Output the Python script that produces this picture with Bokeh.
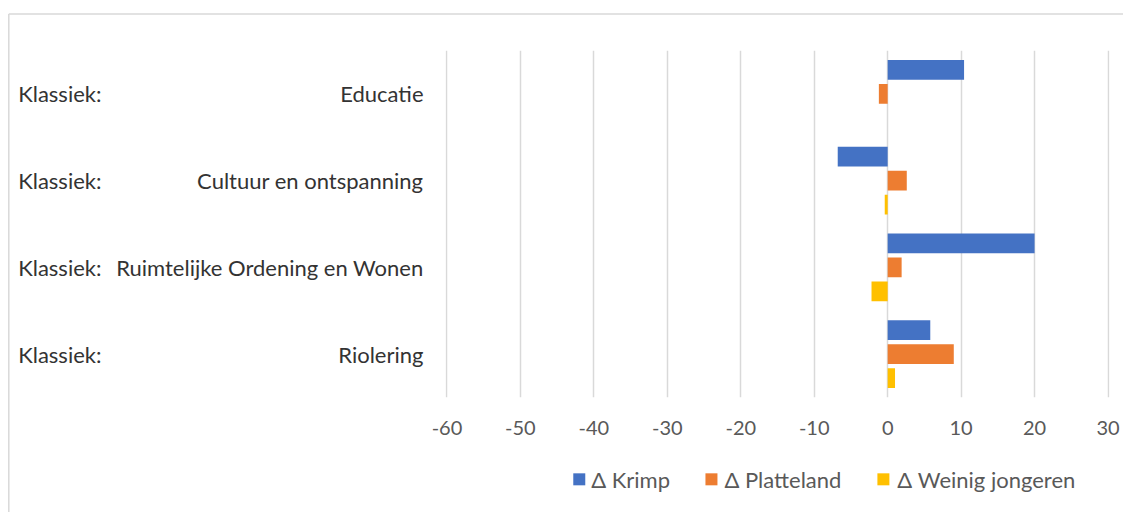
from bokeh.plotting import figure
from bokeh.models import FactorRange, Range1d, FixedTicker, ColumnDataSource
from bokeh.transform import dodge
from bokeh.core.properties import value
from bokeh.embed import file_html
from bokeh.resources import INLINE

# ---- data ----
categories = ["Educatie", "Cultuur en ontspanning", "Ruimtelijke Ordening en Wonen", "Riolering"]
prefixes = ["Klassiek:", "Klassiek:", "Klassiek:", "Klassiek:"]
series_names = ["\u0394 Krimp", "\u0394 Platteland", "\u0394 Weinig jongeren"]
krimp = [10.4, -6.8, 20.0, 5.8]
platteland = [-1.2, 2.6, 1.9, 9.0]
weinig_jongeren = [0.0, -0.4, -2.2, 1.0]
x_ticks = [-60, -50, -40, -30, -20, -10, 0, 10, 20, 30]
x_tick_labels = ["-60", "-50", "-40", "-30", "-20", "-10", "0", "10", "20", "30"]

# ---- styling / layout ----
colors = ["#4472C4", "#ED7D31", "#FFC000"]
FONT = "Lato"
W, H = 1123, 512
SX, SY = W / 1131.0, H / 520.0          # reference px -> figure px
X0, X1 = -60.2, 30.2
frame_left = 448.4 * SX
frame_right = 1116.5 * SX
frame_top = 51 * SY
frame_bottom = 403 * SY
cat_px = (frame_bottom - frame_top) / len(categories)
px_per_unit = (frame_right - frame_left) / (X1 - X0)


def data_x(px):
    return X0 + (px * SX - frame_left) / px_per_unit


def data_y(py):
    return (frame_bottom - py * SY) / cat_px


src = ColumnDataSource(dict(cat=categories, prefix=prefixes,
                            krimp=krimp, platteland=platteland, weinig=weinig_jongeren))

p = figure(width=W, height=H,
           x_range=Range1d(X0, X1),
           y_range=FactorRange(*categories[::-1]),
           output_backend="svg", toolbar_location=None,
           min_border_left=int(round(frame_left)), min_border_right=W - int(round(frame_right)),
           min_border_top=int(round(frame_top)), min_border_bottom=H - int(round(frame_bottom)))

p.background_fill_color = "white"
p.border_fill_color = "white"
p.outline_line_color = None

offsets = [0.276, 0.0, -0.276]
cols = ["krimp", "platteland", "weinig"]
for col, off, c in zip(cols, offsets, colors):
    p.hbar(y=dodge("cat", off, range=p.y_range), left=0, right=col, height=0.227,
           fill_color=c, line_color=None, source=src)

# x axis / grid
p.xaxis.ticker = FixedTicker(ticks=x_ticks)
p.xaxis.major_label_overrides = {t: s for t, s in zip(x_ticks, x_tick_labels)}
p.xaxis.axis_line_color = None
p.xaxis.major_tick_line_color = None
p.xaxis.minor_tick_line_color = None
p.xaxis.major_tick_out = 0
p.xaxis.major_tick_in = 0
p.xaxis.major_label_text_font = FONT
p.xaxis.major_label_text_font_size = "20px"
p.xaxis.major_label_text_color = "#595959"
p.xaxis.major_label_standoff = 23
p.xgrid.ticker = FixedTicker(ticks=x_ticks)
p.xgrid.grid_line_color = "#d9d9d9"
p.xgrid.grid_line_width = 1.5
p.ygrid.visible = False

# y axis (category names)
p.yaxis.axis_line_color = None
p.yaxis.major_tick_line_color = None
p.yaxis.minor_tick_line_color = None
p.yaxis.major_tick_out = 0
p.yaxis.major_tick_in = 0
p.yaxis.major_label_text_font = FONT
p.yaxis.major_label_text_font_size = "22px"
p.yaxis.major_label_text_color = "#333333"
p.yaxis.major_label_standoff = int(round(frame_left - 426 * SX))

# "Klassiek:" prefixes
p.text(x=X0, y="cat", text="prefix", source=src, x_offset=18 * SX - frame_left,
       text_align="left", text_baseline="middle", text_font=value(FONT),
       text_font_size="22px", text_color="#333333", level="overlay")

# chart border (left and top)
bx = data_x(9)
by_top = data_y(14)
p.segment(x0=[bx, bx], y0=[by_top, by_top], x1=[bx, X1 + 20], y1=[-3, by_top],
          line_color="#d9d9d9", line_width=1.5, level="overlay")

# legend (drawn outside the plot frame, below the axis)
leg_sq_px = [583, 716, 889]
leg_txt_px = [595, 729, 903]
leg_y = data_y(486)
p.rect(x=[data_x(v) for v in leg_sq_px], y=[leg_y] * 3, width=12, height=12,
       width_units="screen", height_units="screen", fill_color=colors, line_color=None,
       level="overlay")
p.text(x=[data_x(v) for v in leg_txt_px], y=[leg_y] * 3, text=series_names,
       text_align="left", text_baseline="middle", text_font=value(FONT),
       text_font_size="22px", text_color="#595959", level="overlay")

open("out.html", "w").write(file_html(p, INLINE))
